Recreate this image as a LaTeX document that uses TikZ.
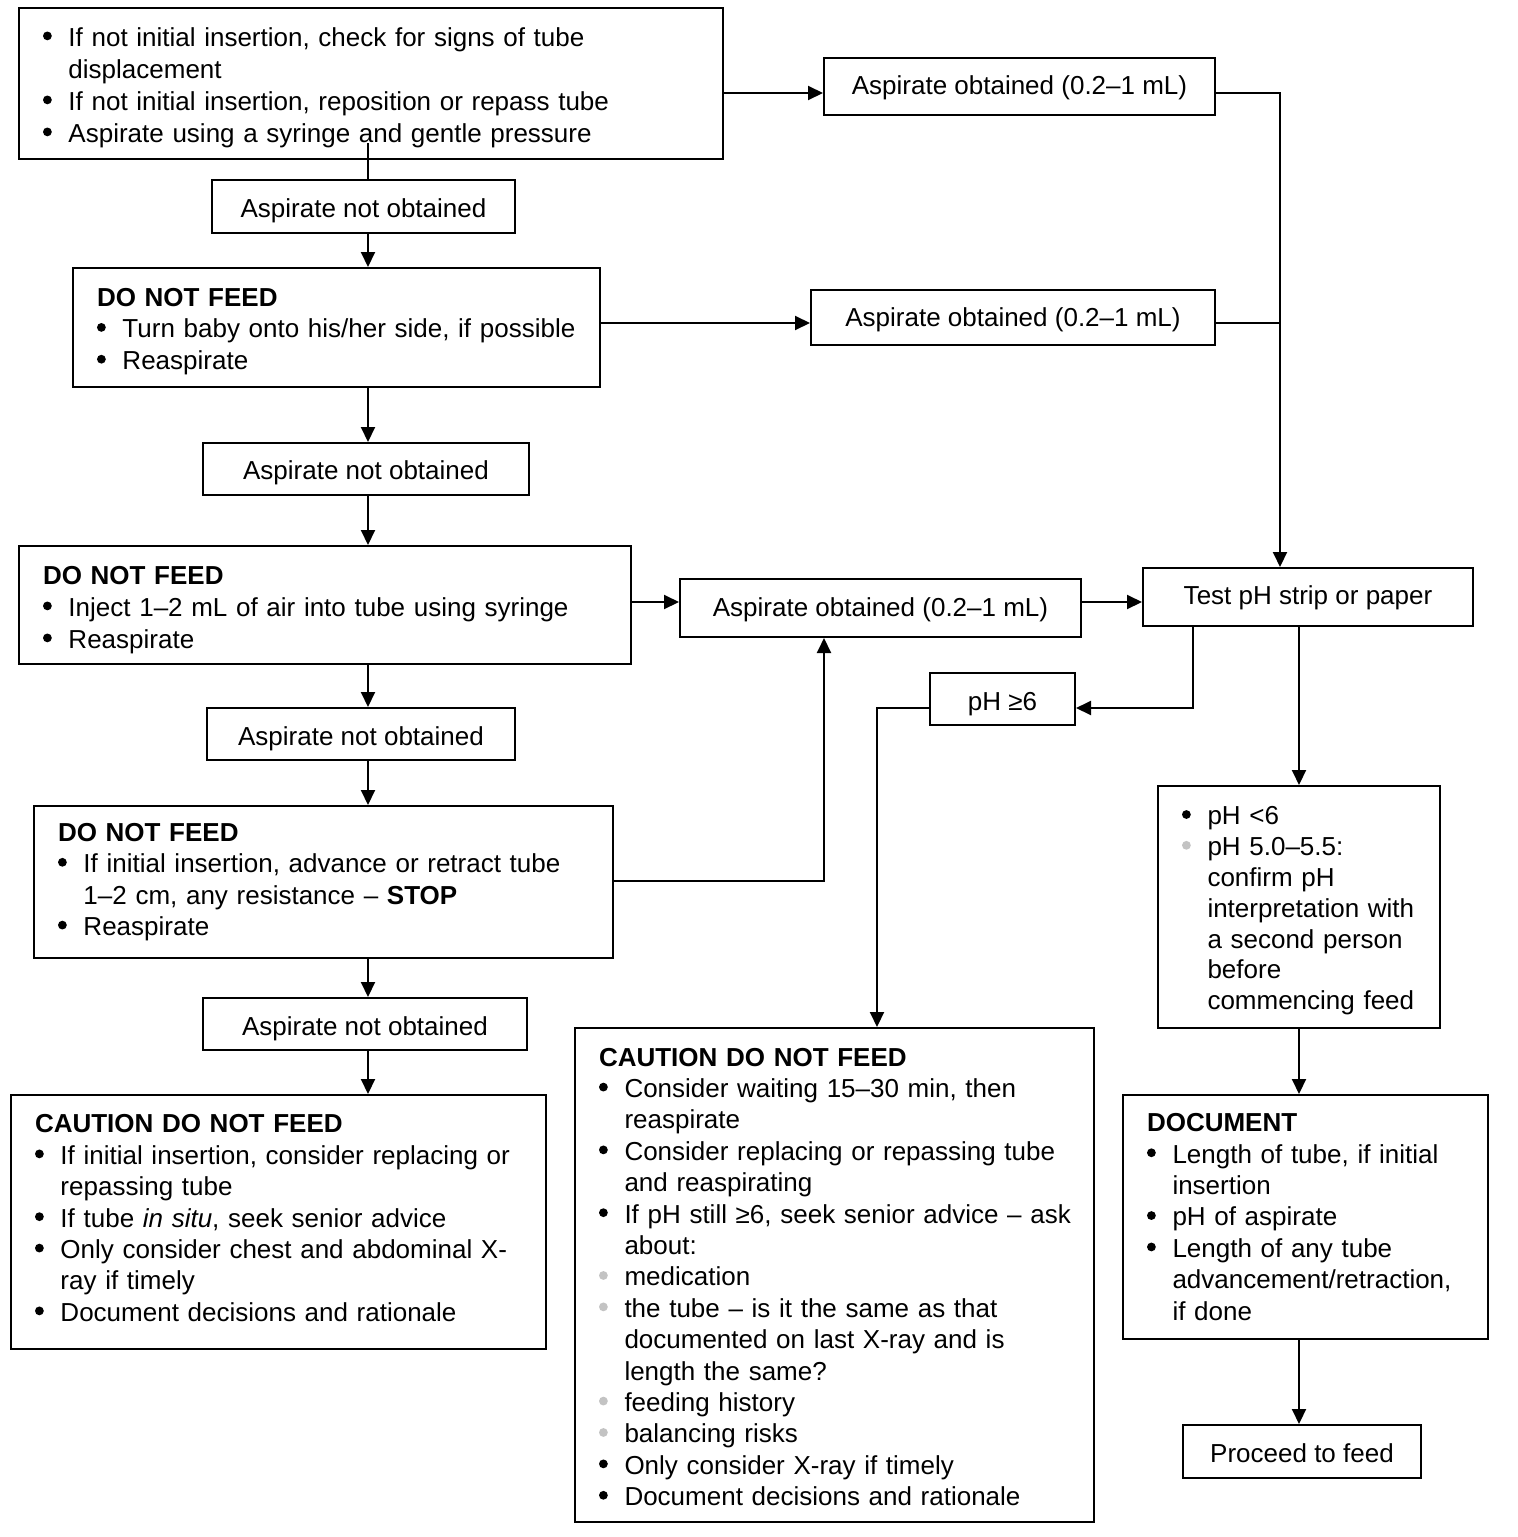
\documentclass[tikz,border=0pt]{standalone}
\usepackage{fontspec}
\setmainfont{Liberation Sans}
\usetikzlibrary{arrows.meta}
\definecolor{bgrey}{RGB}{195,195,195}
\newlength{\bulw}\setlength{\bulw}{12.75pt}
\newcommand{\bdot}[1]{\tikz[baseline=0pt]\fill[#1] (2.25pt,5.2pt) circle[radius=2.2pt];}
\newcommand{\bl}[1]{\makebox[\bulw][l]{\bdot{black}}\mbox{#1}}
\newcommand{\gl}[1]{\makebox[\bulw][l]{\bdot{bgrey}}\mbox{#1}}
\newcommand{\cl}[1]{\hspace*{\bulw}\mbox{#1}}
\newcommand{\dn}[2]{\raisebox{-#1}[\height][\depth]{#2}}
\newcommand{\tstrut}[1]{\rule{0pt}{#1}}
\newcommand{\bstrut}[1]{\rule[-#1]{0pt}{#1}}
\begin{document}
\begin{tikzpicture}[x=0.5pt,y=-0.5pt,
  box/.style={draw, line width=1pt, rectangle, inner sep=0pt, font=\fontsize{13}{15.7}\selectfont},
  txt/.style={box, align=left},
  one/.style={box, align=center},
  arr/.style={line width=1pt, -{Triangle[length=7.5pt,width=7pt]}},
  ln/.style={line width=1pt}]
\useasboundingbox (0,0) rectangle (1517,1537);

% multi-line boxes
\node[txt, font=\fontsize{13}{16}\selectfont, minimum width=352pt, minimum height=75.5pt, text width=328pt] (b1) at (371,83.5) {%
\tstrut{13.5pt}\bl{If not initial insertion, check for signs of tube}\\
\cl{displacement}\\
\bl{If not initial insertion, reposition or repass tube}\\
\bl{Aspirate using a syringe and gentle pressure}};

\node[txt, font=\fontsize{13}{15.9}\selectfont, minimum width=263.5pt, minimum height=59.5pt, text width=239.5pt] (d1) at (336.5,327.5) {%
\tstrut{13pt}\textbf{DO NOT FEED}\\
\bl{Turn baby onto his/her side, if possible}\\
\bl{Reaspirate}};

\node[txt, font=\fontsize{13}{16}\selectfont, minimum width=306pt, minimum height=59pt, text width=282pt] (d2) at (325,605) {%
\tstrut{14pt}\textbf{DO NOT FEED}\\
\bl{Inject 1–2 mL of air into tube using syringe}\\
\bl{Reaspirate}};

\node[txt, minimum width=289.5pt, minimum height=76pt, text width=265.5pt] (d3) at (323.5,882) {%
\textbf{DO NOT FEED}\\
\bl{If initial insertion, advance or retract tube}\\
\cl{1–2 cm, any resistance – \textbf{STOP}}\\
\bl{Reaspirate}};

\node[txt, minimum width=267.5pt, minimum height=127pt, text width=243.5pt] (c1) at (278.5,1222) {%
\textbf{CAUTION DO NOT FEED}\\
\bl{If initial insertion, consider replacing or}\\
\cl{repassing tube}\\
\bl{If tube \textit{in situ}, seek senior advice}\\
\bl{Only consider chest and abdominal X-}\\
\cl{ray if timely}\\
\bl{Document decisions and rationale}\bstrut{4pt}};

\node[txt, minimum width=259.5pt, minimum height=247pt, text width=235.5pt] (c2) at (834.5,1275) {%
\tstrut{11pt}\textbf{CAUTION DO NOT FEED}\\
\bl{Consider waiting 15–30 min, then}\\
\cl{reaspirate}\\
\bl{Consider replacing or repassing tube}\\
\cl{and reaspirating}\\
\bl{If pH still ≥6, seek senior advice – ask}\\
\cl{about:}\\
\gl{medication}\\
\gl{the tube – is it the same as that}\\
\cl{documented on last X-ray and is}\\
\cl{length the same?}\\
\gl{feeding history}\\
\gl{balancing risks}\\
\bl{Only consider X-ray if timely}\\
\bl{Document decisions and rationale}};

\node[txt, font=\fontsize{13}{15.4}\selectfont, minimum width=141pt, minimum height=121pt, text width=117pt] (g) at (1299,907) {%
\tstrut{13pt}\bl{pH <6}\\
\gl{pH 5.0–5.5:}\\
\cl{confirm pH}\\
\cl{interpretation with}\\
\cl{a second person}\\
\cl{before}\\
\cl{commencing feed}};

\node[txt, minimum width=182.5pt, minimum height=122pt, text width=158.5pt] (doc) at (1305.5,1217) {%
\textbf{DOCUMENT}\\
\bl{Length of tube, if initial}\\
\cl{insertion}\\
\bl{pH of aspirate}\\
\bl{Length of any tube}\\
\cl{advancement/retraction,}\\
\cl{if done}};

% single-line boxes
\node[one, minimum width=151.5pt, minimum height=26.5pt] (n1) at (363.5,206.5) {\dn{2pt}{Aspirate not obtained}};
\node[one, minimum width=195.5pt, minimum height=28.5pt] (r1) at (1019.5,86.5) {\dn{0.5pt}{Aspirate obtained (0.2–1 mL)}};
\node[one, minimum width=202pt, minimum height=27.5pt] (r2) at (1013,317.5) {\dn{1pt}{Aspirate obtained (0.2–1 mL)}};
\node[one, minimum width=163pt, minimum height=26pt] (n2) at (366,469) {\dn{2pt}{Aspirate not obtained}};
\node[one, minimum width=200.5pt, minimum height=29pt] (r3) at (880.5,608) {\dn{1pt}{Aspirate obtained (0.2–1 mL)}};
\node[one, minimum width=165pt, minimum height=29pt] (t) at (1308,597) {\dn{0.5pt}{Test pH strip or paper}};
\node[one, minimum width=72.5pt, minimum height=26pt] (p) at (1002.5,699) {\dn{2.5pt}{pH ≥6}};
\node[one, minimum width=154pt, minimum height=26pt] (n3) at (361,734) {\dn{2.5pt}{Aspirate not obtained}};
\node[one, minimum width=162pt, minimum height=26pt] (n4) at (365,1024) {\dn{2.5pt}{Aspirate not obtained}};
\node[one, minimum width=119pt, minimum height=26.5pt] (f) at (1302,1451.5) {\dn{1pt}{Proceed to feed}};

% junction coordinates
\coordinate (b1s) at (368,143);
\coordinate (j2) at (1280,323);

% main vertical chain
\draw[ln] (b1s) -- (b1s |- n1.north);
\draw[arr] (n1.south -| b1s) -- (d1.north -| b1s);
\draw[arr] (d1.south -| b1s) -- (n2.north -| b1s);
\draw[arr] (n2.south -| b1s) -- (d2.north -| b1s);
\draw[arr] (d2.south -| b1s) -- (n3.north -| b1s);
\draw[arr] (n3.south -| b1s) -- (d3.north -| b1s);
\draw[arr] (d3.south -| b1s) -- (n4.north -| b1s);
\draw[arr] (n4.south -| b1s) -- (c1.north -| b1s);

% horizontal branches
\draw[arr] (b1.east |- 0,93) -- (r1.west |- 0,93);
\draw[arr] (r1.east |- 0,93) -| (t.north -| j2);
\draw[arr] (d1.east |- j2) -- (r2.west |- j2);
\draw[ln] (r2.east |- j2) -- (j2);
\draw[arr] (d2.east |- 0,602) -- (r3.west |- 0,602);
\draw[arr] (r3.east |- 0,602) -- (t.west |- 0,602);
\draw[arr] (d3.east |- 0,881) -| (r3.south -| 824,0);
\draw[arr] (t.south -| 1193,0) |- (p.east |- 0,708);
\draw[arr] (p.west |- 0,708) -| (c2.north -| 877,0);
\draw[arr] (t.south -| 1299,0) -- (g.north -| 1299,0);
\draw[arr] (g.south -| 1299,0) -- (doc.north -| 1299,0);
\draw[arr] (doc.south -| 1299,0) -- (f.north -| 1299,0);
\end{tikzpicture}
\end{document}
